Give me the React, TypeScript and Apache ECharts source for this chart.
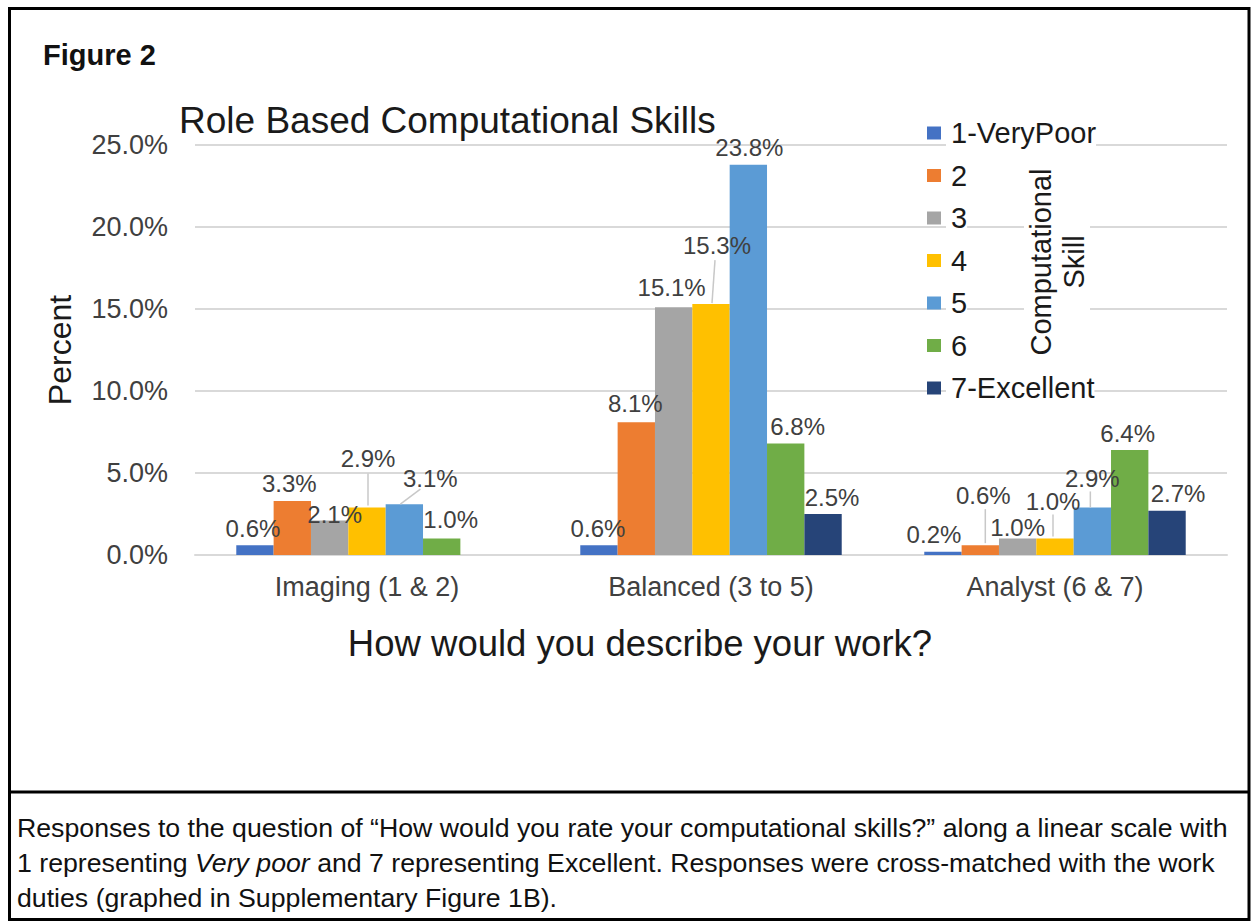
import React, { useEffect, useRef } from "react";
import * as echarts from "echarts";

const categories = ["Imaging (1 & 2)", "Balanced (3 to 5)", "Analyst (6 & 7)"];
const seriesNames = ["1-VeryPoor", "2", "3", "4", "5", "6", "7-Excellent"];
const colors = ["#4472C4", "#ED7D31", "#A5A5A5", "#FFC000", "#5B9BD5", "#70AD47", "#264478"];

const s1VeryPoor = [0.6, 0.6, 0.2];
const s2 = [3.3, 8.1, 0.6];
const s3 = [2.1, 15.1, 1.0];
const s4 = [2.9, 15.3, 1.0];
const s5 = [3.1, 23.8, 2.9];
const s6 = [1.0, 6.8, 6.4];
const s7Excellent = [null, 2.5, 2.7];
const seriesValues = [s1VeryPoor, s2, s3, s4, s5, s6, s7Excellent];

const yTicks = [0, 5, 10, 15, 20, 25];

// label offsets [dx, dy] per series per category (layout only)
const labelOffsets = [
  [[-2, 0], [-1, 0], [-9, 0]],
  [[-3, 0], [-1, -2], [3, -33]],
  [[5, 11], [-2, -3], [0, 6]],
  [[1, -32], [6, -42], [-2, -20]],
  [[26, -9], [1, 0], [0, -12]],
  [[9, -2], [12, 0], [-2, 0]],
  [[0, 0], [9, 0], [11, 0]],
];

// leader lines: [category, series, startDx, startDy, endDx, endDy] relative to bar top centre
const leaders = [
  [0, 3, 1, -34, 1, -2],
  [0, 4, 16, -15, -4, 0],
  [1, 3, 4, -44, 1, -1],
  [2, 1, 5, -36, 5, -2],
  [2, 3, -2, -24, -2, -2],
  [2, 4, -2, -16, -2, 0],
];

const CAT_GAP = 0.24;
const FONT = "'Liberation Sans', Arial, Helvetica, sans-serif";

export default function App() {
  const ref = useRef<HTMLDivElement>(null);
  useEffect(() => {
    if (!ref.current) return;
    const chart = echarts.init(ref.current, null, { renderer: "svg" });

    const barSeries = seriesNames.map((name, s) => ({
      name,
      type: "bar",
      barGap: "0%",
      barCategoryGap: CAT_GAP * 100 + "%",
      itemStyle: { color: colors[s] },
      label: {
        show: true,
        position: "top",
        distance: 5,
        fontSize: 24,
        color: "#404040",
        fontFamily: FONT,
        formatter: (p: any) => (p.value == null ? "" : Number(p.value).toFixed(1) + "%"),
      },
      data: seriesValues[s].map((v, c) =>
        v == null ? null : { value: v, label: { offset: labelOffsets[s][c] } }
      ),
    }));

    const leaderSeries = {
      type: "custom",
      silent: true,
      z: 5,
      encode: { x: 0, y: 1 },
      data: leaders.map(([c, s, sx, sy, ex, ey]) => [c, seriesValues[s][c], s, sx, sy, ex, ey]),
      renderItem: (params: any, api: any) => {
        const c = api.value(0);
        const v = api.value(1);
        const s = api.value(2);
        const p = api.coord([c, v]);
        const catW = api.size([1, 0])[0];
        const bw = (catW * (1 - CAT_GAP)) / 7;
        const cx = p[0] - 3.5 * bw + bw * (s + 0.5);
        const top = p[1];
        return {
          type: "line",
          shape: {
            x1: cx + api.value(3),
            y1: top + api.value(4),
            x2: cx + api.value(5),
            y2: top + api.value(6),
          },
          style: { stroke: "#c8c8c8", lineWidth: 1.5 },
        };
      },
    };

    chart.setOption({
      animation: false,
      backgroundColor: "#ffffff",
      textStyle: { fontFamily: FONT },
      title: {
        text: "Role Based Computational Skills",
        left: 174,
        top: 97,
        textStyle: { fontSize: 37, fontWeight: "normal", color: "#1a1a1a", fontFamily: FONT },
      },
      legend: {
        data: seriesNames,
        orient: "vertical",
        left: 922,
        top: 113,
        itemWidth: 14,
        itemHeight: 13,
        itemGap: 12.5,
        icon: "rect",
        textStyle: {
          fontSize: 29,
          lineHeight: 30,
          color: "#1a1a1a",
          fontFamily: FONT,
          backgroundColor: "#ffffff",
          padding: [0, 0, 0, 5],
        },
      },
      grid: { left: 195, right: 26, top: 145, bottom: 366, containLabel: false },
      xAxis: {
        type: "category",
        data: categories,
        name: "How would you describe your work?",
        nameLocation: "middle",
        nameGap: 70,
        nameTextStyle: {
          fontSize: 36.5,
          color: "#1a1a1a",
          fontFamily: FONT,
          padding: [0, 142, 0, 0],
        },
        axisTick: { show: false },
        axisLine: { show: true, lineStyle: { color: "#d9d9d9", width: 2 } },
        axisLabel: { fontSize: 27, color: "#404040", margin: 18, fontFamily: FONT },
      },
      yAxis: {
        type: "value",
        min: yTicks[0],
        max: yTicks[yTicks.length - 1],
        interval: 5,
        name: "Percent",
        nameLocation: "middle",
        nameGap: 119,
        nameTextStyle: { fontSize: 32, color: "#1a1a1a", fontFamily: FONT },
        axisLine: { show: false },
        axisTick: { show: false },
        splitLine: { lineStyle: { color: "#d9d9d9", width: 2 } },
        axisLabel: {
          fontSize: 27,
          color: "#404040",
          margin: 27,
          fontFamily: FONT,
          formatter: (v: number) => v.toFixed(1) + "%",
        },
      },
      series: [...barSeries, leaderSeries],
      graphic: [
        {
          type: "rect",
          silent: true,
          z: 20,
          shape: { x: 9.5, y: 8.5, width: 1239.5, height: 911 },
          style: { fill: "none", stroke: "#000000", lineWidth: 3 },
        },
        {
          type: "line",
          silent: true,
          z: 20,
          shape: { x1: 9, y1: 792, x2: 1249, y2: 792 },
          style: { stroke: "#000000", lineWidth: 3 },
        },
        {
          type: "text",
          x: 43,
          y: 55,
          z: 20,
          style: {
            text: "Figure 2",
            font: `bold 29px ${FONT}`,
            fill: "#111111",
            verticalAlign: "middle",
          },
        },
        {
          type: "text",
          x: 1057,
          y: 262,
          z: 20,
          rotation: Math.PI / 2,
          style: {
            text: "Computational\nSkill",
            font: `29px ${FONT}`,
            fill: "#1a1a1a",
            align: "center",
            verticalAlign: "middle",
            lineHeight: 33,
            backgroundColor: "#ffffff",
          },
        },
        {
          type: "text",
          x: 17,
          y: 828,
          z: 20,
          style: {
            text: "Responses to the question of \u201CHow would you rate your computational skills?\u201D along a linear scale with",
            font: `26.7px ${FONT}`,
            fill: "#111111",
            verticalAlign: "middle",
          },
        },
        {
          type: "text",
          x: 17,
          y: 863,
          z: 20,
          style: {
            text: "1 representing {i|Very poor} and 7 representing Excellent. Responses were cross-matched with the work",
            font: `26.7px ${FONT}`,
            fill: "#111111",
            verticalAlign: "middle",
            rich: { i: { font: `italic 26.7px ${FONT}`, fill: "#111111" } },
          },
        },
        {
          type: "text",
          x: 17,
          y: 898,
          z: 20,
          style: {
            text: "duties (graphed in Supplementary Figure 1B).",
            font: `26.7px ${FONT}`,
            fill: "#111111",
            verticalAlign: "middle",
          },
        },
      ],
    });

    return () => chart.dispose();
  }, []);

  return (
    <div
      ref={ref}
      style={{ position: "fixed", left: 0, top: 0, width: 1253, height: 921, background: "#fff" }}
    />
  );
}
